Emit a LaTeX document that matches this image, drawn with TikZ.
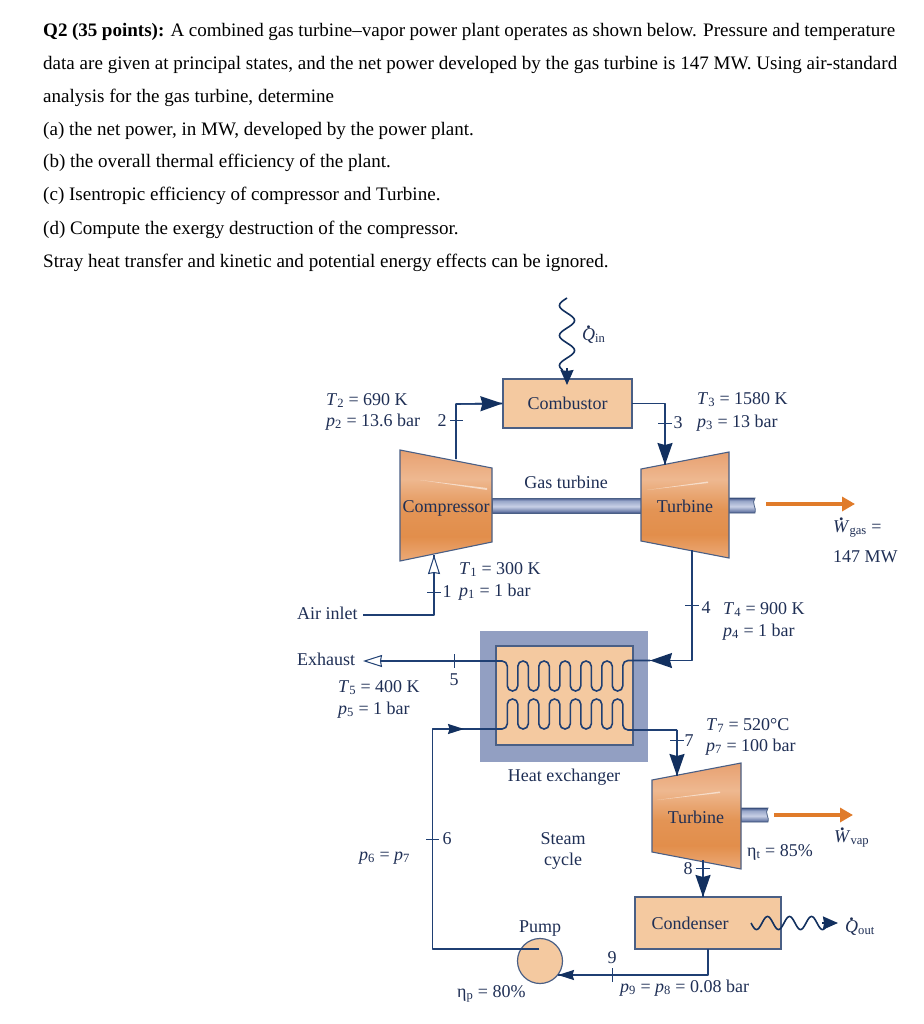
\documentclass[tikz,border=0pt]{standalone}
\usepackage{fontspec}
\setmainfont{Liberation Serif}
\usetikzlibrary{arrows.meta}
\definecolor{navy}{HTML}{1F3F73}
\definecolor{headnavy}{HTML}{12305F}
\definecolor{ink}{HTML}{1F2F55}
\definecolor{peach}{HTML}{F4C9A0}
\definecolor{hxblue}{HTML}{929FC2}
\definecolor{workorange}{HTML}{E07B2A}
\definecolor{edgeblue}{HTML}{4A5F85}
\definecolor{ta}{HTML}{ECAA78}
\definecolor{tb}{HTML}{E28E4B}
\definecolor{tc}{HTML}{E39455}
\definecolor{td}{HTML}{EEB890}
\definecolor{te}{HTML}{E9A678}
\definecolor{tf}{HTML}{E6A070}
\definecolor{sa}{HTML}{33497A}
\definecolor{sb}{HTML}{6B7CA8}
\definecolor{sc}{HTML}{C8D0E6}
\definecolor{sd}{HTML}{9AA8CA}
\pgfdeclareverticalshading{turbshade}{100bp}{color(0bp)=(ta);color(25bp)=(ta);color(36bp)=(tb);color(48bp)=(tc);color(62bp)=(td);color(72bp)=(te);color(75bp)=(tf);color(100bp)=(tf)}
\pgfdeclareverticalshading{shaftshade}{100bp}{color(0bp)=(sa);color(25bp)=(sa);color(30bp)=(sb);color(47bp)=(sc);color(65bp)=(sd);color(71bp)=(sb);color(75bp)=(sa);color(100bp)=(sa)}
\tikzset{
  x=1pt,y=-1pt,
  lab/.style={anchor=base west,inner sep=0pt,text=ink,font=\fontsize{18}{20}\selectfont},
  clab/.style={anchor=base,inner sep=0pt,text=ink,font=\fontsize{18}{20}\selectfont},
  para/.style={anchor=base west,inner sep=0pt,text=black,font=\fontsize{19.05}{20}\selectfont},
  pipe/.style={draw=navy,line width=1.6pt,line join=round},
  tickmark/.style={draw=navy,line width=1pt},
  bighead/.style={draw=navy,line width=1.6pt,-{Stealth[length=22pt,width=15pt,inset=2pt,color=headnavy]}},
  smallhead/.style={draw=navy,line width=1.6pt,-{Stealth[length=16pt,width=10pt,inset=1.5pt,color=headnavy]}},
  hollowhead/.style={draw=navy,line width=1.6pt,-{Stealth[length=19pt,width=12pt,inset=1pt,fill=white,color=navy,line width=1pt]}},
  workarrow/.style={draw=workorange,line width=4.5pt,-{Triangle[length=13pt,width=14pt,color=workorange]}},
  boxed/.style={draw=edgeblue,line width=1.2pt,fill=peach,inner sep=0pt},
  machine/.style={draw=edgeblue,line width=1.1pt},
  shaftbody/.style={draw=edgeblue,line width=.8pt},
  glint/.style={fill=white,fill opacity=.55,draw=none},
  wave/.style={draw=headnavy,line width=1.6pt},
  wavehead/.style={draw=headnavy,line width=1.6pt,-{Stealth[length=15pt,width=13pt,inset=1pt,color=headnavy]}},
}
\newcommand{\Tv}[2]{\textit{#1}\textsubscript{#2}}
\newcommand{\Dt}[1]{\ooalign{\textit{#1}\cr\hidewidth\raisebox{.63em}{\textbf{.}}\hidewidth\cr}}
\begin{document}
\begin{tikzpicture}
\useasboundingbox (0,0) rectangle (923,1024);
\fill[white] (0,0) rectangle (923,1024);

% problem statement
\node[para] (l1) at (43,37) {\makebox[852pt][s]{\textbf{Q2 (35 points):} A combined gas turbine–vapor power plant operates as shown below. Pressure and temperature}};
\node[para] (l2) at (43,70) {\makebox[854pt][s]{data are given at principal states, and the net power developed by the gas turbine is 147 MW. Using air-standard}};
\node[para] (l3) at (43,103) {analysis for the gas turbine, determine};
\node[para] (l4) at (43,136) {(a) the net power, in MW, developed by the power plant.};
\node[para] (l5) at (43,168) {(b) the overall thermal efficiency of the plant.};
\node[para] (l6) at (43,201) {(c) Isentropic efficiency of compressor and Turbine.};
\node[para] (l7) at (43,234) {(d) Compute the exergy destruction of the compressor.};
\node[para] (l8) at (43,267) {Stray heat transfer and kinetic and potential energy effects can be ignored.};

% heat exchanger casing
\fill[hxblue] (480,631) rectangle (648,762);
\node[boxed,minimum width=137pt,minimum height=99pt] (hx) at (564.5,695.5) {};

% shafts
\path[shade,shading=shaftshade,shaftbody] (492,498) rectangle (641,513);
\path[shade,shading=shaftshade,shaftbody] (729,498) -- (755,498) .. controls (751,503) and (757,508) .. (755,513) -- (729,513) -- cycle;
\path[shade,shading=shaftshade,shaftbody] (741,808) -- (768,808) .. controls (764,813) and (770,818) .. (768,822) -- (741,822) -- cycle;

% machines
\path[shade,shading=turbshade,machine] (400,450) -- (492,468) -- (492,542) -- (400,561) -- cycle;
\path[shade,shading=turbshade,machine] (641,469) -- (729,452) -- (729,558) -- (641,541) -- cycle;
\path[shade,shading=turbshade,machine] (652,780) -- (741,763) -- (741,869) -- (652,852) -- cycle;
\path[glint] (420,480) -- (487,488) -- (487,490) -- cycle;
\path[glint] (647,490) -- (708,481.5) -- (708,483) -- cycle;
\path[glint] (657,800) -- (720,791.5) -- (720,793) -- cycle;

% boxes
\node[boxed,minimum width=129pt,minimum height=49pt,text=ink,font=\fontsize{18}{20}\selectfont] (comb) at (567.5,403.5) {Combustor};
\node[boxed,minimum width=146pt,minimum height=52pt] (cond) at (708,923) {};
\node[boxed,circle,minimum size=45pt] (pump) at (540,961) {};

% named ports
\coordinate (compOut) at (456,459);
\coordinate (compBend) at (456,404);
\coordinate (combOut) at (632,403.5);
\coordinate (t3bend) at (665,403.5);
\coordinate (turbIn) at (665,465);
\coordinate (airStart) at (363,615);
\coordinate (airBend) at (434,615);
\coordinate (compIn) at (434,555);
\coordinate (turbOut) at (692,550);
\coordinate (t4bend) at (692,660.5);
\coordinate (hxIn) at (650,660.5);
\coordinate (exhaustTip) at (363,661);
\coordinate (exhaustTail) at (385,661);
\coordinate (pumpOut) at (539,949);
\coordinate (p6bend) at (432.5,949);
\coordinate (p6top) at (432.5,729);
\coordinate (arrow6) at (464,729);
\coordinate (t7bend) at (677,730);
\coordinate (stIn) at (677,776);
\coordinate (stOut) at (703,860);
\coordinate (condTop) at (703,897);
\coordinate (condOut) at (708,949);
\coordinate (condBend) at (708,975);
\coordinate (pumpIn) at (558,975);

% gas loop
\draw[pipe] (compOut) -- (compBend) -- (comb.west);
\path[bighead] (compBend) -- (comb.west);
\draw[pipe] (combOut) -- (t3bend) -- (turbIn);
\path[bighead] (t3bend) -- (turbIn);
\draw[pipe] (airStart) -- (airBend) -- (compIn);
\path[hollowhead] (airBend) -- (compIn);
\draw[pipe] (turbOut) -- (t4bend) -- (hxIn);
\draw[pipe,rounded corners=5.2pt] (hxIn) -- (622.8,660.5) -- (622.8,691) -- (612.3,691) -- (612.3,661) -- (601.8,661) -- (601.8,691) -- (591.3,691) -- (591.3,661) -- (580.8,661) -- (580.8,691) -- (570.3,691) -- (570.3,661) -- (559.8,661) -- (559.8,691) -- (549.3,691) -- (549.3,661) -- (538.8,661) -- (538.8,691) -- (528.3,691) -- (528.3,661) -- (517.8,661) -- (517.8,691) -- (507.3,691) -- (507.3,661) -- (exhaustTail);
\path[bighead] (t4bend) -- (hxIn);
\path[hollowhead] (exhaustTail) -- (exhaustTip);

% steam loop
\draw[pipe] (pumpOut) -- (p6bend) -- (p6top) -- (arrow6);
\draw[pipe,rounded corners=5.2pt] (arrow6) -- (507.3,729) -- (507.3,699) -- (517.8,699) -- (517.8,729) -- (528.3,729) -- (528.3,699) -- (538.8,699) -- (538.8,729) -- (549.3,729) -- (549.3,699) -- (559.8,699) -- (559.8,729) -- (570.3,729) -- (570.3,699) -- (580.8,699) -- (580.8,729) -- (591.3,729) -- (591.3,699) -- (601.8,699) -- (601.8,729) -- (612.3,729) -- (612.3,699) -- (622.8,699) -- (622.8,730) -- (t7bend);
\draw[pipe] (t7bend) -- (stIn);
\draw[pipe] (stOut) -- (condTop);
\draw[pipe] (condOut) -- (condBend) -- (pumpIn);
\path[smallhead] (p6top) -- (arrow6);
\path[bighead] (t7bend) -- (stIn);
\path[bighead] (stOut) -- (condTop);
\path[smallhead] (condBend) -- (pumpIn);

% ticks
\draw[tickmark] (450,420) -- (463,420);
\draw[tickmark] (658,423) -- (672,423);
\draw[tickmark] (427,592) -- (441,592);
\draw[tickmark] (685,605) -- (699,605);
\draw[tickmark] (454,654) -- (454,668);
\draw[tickmark] (670,740) -- (684,740);
\draw[tickmark] (426,839) -- (439,839);
\draw[tickmark] (696,868) -- (710,868);
\draw[tickmark] (612,968) -- (612,982);

% work arrows
\coordinate (wgasS) at (766,504);
\coordinate (wgasE) at (855,504);
\coordinate (wvapS) at (774,815);
\coordinate (wvapE) at (853,815);
\draw[workarrow] (wgasS) -- (wgasE);
\draw[workarrow] (wvapS) -- (wvapE);

% heat flows
\coordinate (qinHead) at (567,368);
\coordinate (qinEnd) at (567,385);
\coordinate (qoutHead) at (822,923);
\coordinate (qoutEnd) at (838,923);
\draw[wave] plot[domain=298:370,samples=120] ({567-7.5*sin((\x-298)/30*360)},\x);
\path[wavehead] (qinHead) -- (qinEnd);
\draw[wave] plot[domain=751:826,samples=120] (\x,{923+6.5*sin((\x-751)/22*360)});
\path[wavehead] (qoutHead) -- (qoutEnd);

% labels
\node[lab] (qin) at (582,340) {\Dt{Q}\textsubscript{in}};
\node[lab] (t2) at (326,405) {\Tv{T}{2} = 690 K};
\node[lab] (p2) at (326,426) {\Tv{p}{2} = 13.6 bar};
\node[clab] (n2) at (442,426) {2};
\node[lab] (t3) at (697,404) {\Tv{T}{3} = 1580 K};
\node[lab] (p3) at (697,427) {\Tv{p}{3} = 13 bar};
\node[clab] (n3) at (678,428) {3};
\node[clab] (gt) at (566,488) {Gas turbine};
\node[clab] (compl) at (446,512) {Compressor};
\node[clab] (turbl) at (685,512) {Turbine};
\node[lab] (wgas) at (833,532) {\Dt{W}\textsubscript{gas} =};
\node[lab] (mw) at (833,562) {147 MW};
\node[lab] (t1) at (459,574) {\Tv{T}{1} = 300 K};
\node[lab] (p1) at (459,596) {\Tv{p}{1} = 1 bar};
\node[clab] (n1) at (447,597) {1};
\node[lab] (air) at (297,619) {Air inlet};
\node[lab] (t4) at (723,614) {\Tv{T}{4} = 900 K};
\node[lab] (p4) at (723,636) {\Tv{p}{4} = 1 bar};
\node[clab] (n4) at (706,613) {4};
\node[lab] (exh) at (297,665) {Exhaust};
\node[lab] (t5) at (338,692) {\Tv{T}{5} = 400 K};
\node[lab] (p5) at (338,714) {\Tv{p}{5} = 1 bar};
\node[clab] (n5) at (454,685) {5};
\node[clab] (hxl) at (564,781) {Heat exchanger};
\node[lab] (t7) at (706,730) {\Tv{T}{7} = 520°C};
\node[lab] (p7) at (706,751) {\Tv{p}{7} = 100 bar};
\node[clab] (n7) at (689,746) {7};
\node[clab] (stl) at (696,823) {Turbine};
\node[lab] (wvap) at (834,842) {\Dt{W}\textsubscript{vap}};
\node[lab] (etat) at (747,856) {η\textsubscript{t} = 85\%};
\node[clab] (n8) at (688,874) {8};
\node[clab] (condl) at (690,929) {Condenser};
\node[lab] (qout) at (845,932) {\Dt{Q}\textsubscript{out}};
\node[clab] (st1) at (563,844) {Steam};
\node[clab] (st2) at (563,865) {cycle};
\node[lab] (p67) at (359,860) {\Tv{p}{6} = \Tv{p}{7}};
\node[clab] (n6) at (447,844) {6};
\node[clab] (pumpl) at (540,932) {Pump};
\node[lab] (etap) at (457,997) {η\textsubscript{p} = 80\%};
\node[clab] (n9) at (612,963) {9};
\node[lab] (p98) at (620,992) {\Tv{p}{9} = \Tv{p}{8} = 0.08 bar};
\end{tikzpicture}
\end{document}
